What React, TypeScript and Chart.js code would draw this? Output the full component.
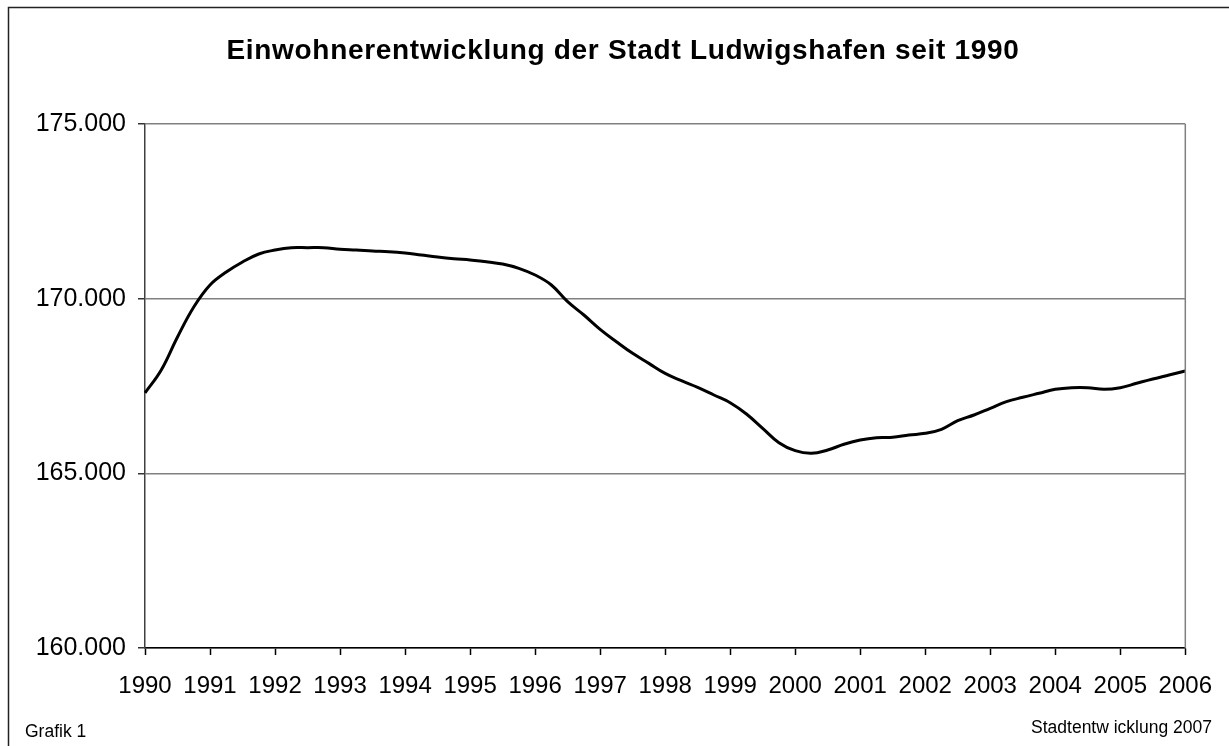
import React, { useEffect, useRef } from "react";
import { Chart, registerables } from "chart.js";

Chart.register(...registerables);

const title = "Einwohnerentwicklung der Stadt Ludwigshafen seit 1990";
const footerLeft = "Grafik 1";
const footerRight = "Stadtentw icklung 2007";

// one label per year; the data are quarterly (4 points per year, last point = 2006)
const years = [
  "1990", "1991", "1992", "1993", "1994", "1995", "1996", "1997", "1998",
  "1999", "2000", "2001", "2002", "2003", "2004", "2005", "2006",
];

// quarterly population values
const population = [
  167300, 167958, 168903, 169761,
  170391, 170763, 171050, 171279,
  171393, 171460, 171460, 171460,
  171413, 171393, 171365, 171345,
  171307, 171250, 171193, 171145,
  171107, 171059, 170992, 170869,
  170677, 170391, 169913, 169532,
  169122, 168768, 168434, 168148,
  167862, 167652, 167462, 167242,
  167022, 166699, 166289, 165877,
  165648, 165573, 165668, 165831,
  165954, 166020, 166030, 166097,
  166145, 166260, 166506, 166670,
  166862, 167052, 167176, 167291,
  167405, 167452, 167452, 167405,
  167452, 167577, 167700, 167815,
  167930,
];

const yTicks = [160000, 165000, 170000, 175000];

const FONT = "'Liberation Sans', Arial, sans-serif";

const labels: string[] = [];
years.forEach((y, i) => {
  labels.push(y);
  if (i < years.length - 1) labels.push("", "", "");
});

const fmt = (v: number) => v.toLocaleString("de-DE", { minimumFractionDigits: 0 }).replace(/\s/g, ".");

export default function App() {
  const ref = useRef<HTMLCanvasElement | null>(null);

  useEffect(() => {
    document.body.style.margin = "0";
    const canvas = ref.current;
    if (!canvas) return;

    const decor = {
      id: "decor",
      beforeDraw(chart: any) {
        const ctx = chart.ctx;
        ctx.save();
        ctx.fillStyle = "#ffffff";
        ctx.fillRect(0, 0, chart.width, chart.height);
        ctx.restore();
      },
      afterDraw(chart: any) {
        const ctx = chart.ctx;
        const a = chart.chartArea;
        ctx.save();
        // outer frame
        ctx.strokeStyle = "#222222";
        ctx.lineWidth = 1.5;
        ctx.beginPath();
        ctx.moveTo(8.5, chart.height + 5);
        ctx.lineTo(8.5, 7.5);
        ctx.lineTo(chart.width + 5, 7.5);
        ctx.stroke();
        // plot area right border
        ctx.strokeStyle = "#808080";
        ctx.lineWidth = 1.5;
        ctx.beginPath();
        ctx.moveTo(a.right, a.top);
        ctx.lineTo(a.right, a.bottom);
        ctx.stroke();
        // title
        ctx.fillStyle = "#000000";
        ctx.font = `bold 28px ${FONT}`;
        ctx.textAlign = "center";
        ctx.textBaseline = "alphabetic";
        try {
          (ctx as any).letterSpacing = "0.7px";
        } catch (e) {}
        ctx.fillText(title, 623, 59);
        try {
          (ctx as any).letterSpacing = "0px";
        } catch (e) {}
        // footers
        ctx.font = `17.5px ${FONT}`;
        ctx.textAlign = "left";
        ctx.fillText(footerLeft, 25, 737);
        ctx.textAlign = "right";
        ctx.fillText(footerRight, 1212, 733);
        ctx.restore();
      },
    };

    const chart = new Chart(canvas, {
      type: "line",
      data: {
        labels,
        datasets: [
          {
            data: population,
            borderColor: "#000000",
            borderWidth: 3,
            pointRadius: 0,
            tension: 0.4,
            fill: false,
          },
        ],
      },
      options: {
        responsive: false,
        animation: false,
        devicePixelRatio: 1,
        layout: { padding: { top: 124, right: 42, left: 0, bottom: 0 } },
        plugins: {
          legend: { display: false },
          title: { display: false },
          tooltip: { enabled: false },
        },
        scales: {
          x: {
            type: "category",
            offset: false,
            afterFit(scale: any) {
              scale.height = 98;
            },
            grid: {
              drawOnChartArea: false,
              drawTicks: true,
              tickLength: 7,
              tickColor: (c: any) => (labels[c.index] ? "#000000" : "rgba(0,0,0,0)"),
              tickWidth: 1.5,
            },
            border: { color: "#000000", width: 1.5 },
            ticks: {
              autoSkip: false,
              maxRotation: 0,
              minRotation: 0,
              padding: 17,
              color: "#000000",
              font: { family: FONT, size: 24 },
              callback: (_v: any, i: number) => labels[i],
            },
          },
          y: {
            min: 160000,
            max: 175000,
            afterFit(scale: any) {
              scale.width = 145;
            },
            afterBuildTicks(scale: any) {
              scale.ticks = yTicks.map((v) => ({ value: v }));
            },
            grid: {
              color: "#808080",
              lineWidth: 1.5,
              drawTicks: true,
              tickLength: 7,
              tickColor: "#333333",
              tickWidth: 1.5,
            },
            border: { color: "#404040", width: 1.5 },
            ticks: {
              padding: 12,
              color: "#000000",
              font: { family: FONT, size: 25 },
              callback: (v: any) => fmt(Number(v)),
            },
          },
        },
      },
      plugins: [decor],
    } as any);

    return () => chart.destroy();
  }, []);

  return (
    <div style={{ width: 1229, height: 746 }}>
      <canvas ref={ref} width={1229} height={746} style={{ display: "block" }} />
    </div>
  );
}
